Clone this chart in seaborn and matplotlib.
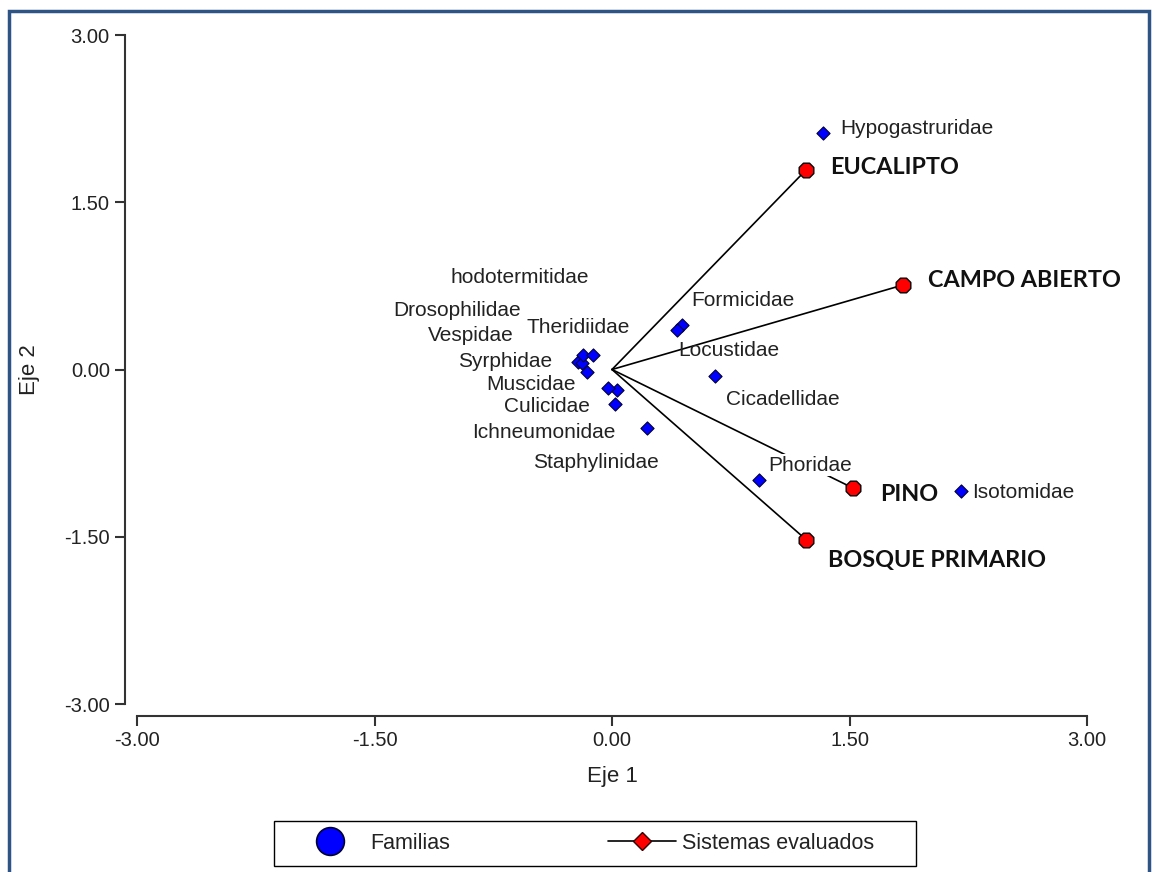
import numpy as np
import pandas as pd
import matplotlib
matplotlib.use('Agg')
import matplotlib.pyplot as plt
from matplotlib.lines import Line2D
from matplotlib.patches import Rectangle
import seaborn as sns

# %% data
familias = ['Hypogastruridae', 'Isotomidae', 'Phoridae', 'Cicadellidae', 'Formicidae',
            'Locustidae', 'Staphylinidae', 'Ichneumonidae', 'Culicidae', 'Muscidae',
            'Syrphidae', 'Vespidae', 'Drosophilidae', 'Theridiidae', 'hodotermitidae']
fam_eje1 = [1.333, 2.204, 0.928, 0.651, 0.442, 0.411, 0.221, 0.019, 0.032, -0.025,
            -0.215, -0.190, -0.183, -0.120, -0.158]
fam_eje2 = [2.120, -1.090, -0.991, -0.058, 0.399, 0.354, -0.525, -0.309, -0.184, -0.166,
            0.067, 0.058, 0.130, 0.130, -0.022]

sistemas = ['EUCALIPTO', 'CAMPO ABIERTO', 'PINO', 'BOSQUE PRIMARIO']
sis_eje1 = [1.225, 1.838, 1.522, 1.225]
sis_eje2 = [1.789, 0.758, -1.063, -1.525]

# label anchors (left edge, vertical centre) in data units
fam_lab_x = [1.44, 2.274, 0.985, 0.72, 0.499, 0.417, -0.499, -0.884, -0.682, -0.796,
             -0.973, -1.162, -1.383, -0.537, -1.017]
fam_lab_y = [2.157, -1.099, -0.857, -0.265, 0.623, 0.166, -0.83, -0.561, -0.336, -0.139,
             0.076, 0.309, 0.525, 0.381, 0.821]
sis_lab_x = [1.377, 1.996, 1.693, 1.364]
sis_lab_y = [1.816, 0.794, -1.117, -1.717]

ticks = [-3.0, -1.5, 0.0, 1.5, 3.0]

df_fam = pd.DataFrame({'Eje 1': fam_eje1, 'Eje 2': fam_eje2, 'Familia': familias})
df_sis = pd.DataFrame({'Eje 1': sis_eje1, 'Eje 2': sis_eje2, 'Sistema': sistemas})

# %% plot
sns.set_theme(style='white')
plt.rcParams['font.family'] = ['Liberation Sans', 'DejaVu Sans']
txt_col = '#222222'

fig = plt.figure(figsize=(11.58, 8.72), dpi=100)
ax = fig.add_axes([137 / 1158, 1 - 704 / 872, 950 / 1158, 669 / 872])

for x, y in zip(sis_eje1, sis_eje2):
    ax.plot([0, x], [0, y], color='black', lw=1.2, zorder=1)

sns.scatterplot(data=df_fam, x='Eje 1', y='Eje 2', marker='D', s=45, color='#0000ff',
                edgecolor='#000033', linewidth=0.8, ax=ax, zorder=3, legend=False)
sns.scatterplot(data=df_sis, x='Eje 1', y='Eje 2', marker='8', s=130, color='#ff0000',
                edgecolor='black', linewidth=1.0, ax=ax, zorder=4, legend=False)

for name, x, y in zip(familias, fam_lab_x, fam_lab_y):
    bbox = dict(facecolor='white', edgecolor='none', pad=1) if name == 'Phoridae' else None
    ax.text(x, y, name, ha='left', va='center', fontsize=15, color=txt_col, bbox=bbox, zorder=2)
for name, x, y in zip(sistemas, sis_lab_x, sis_lab_y):
    ax.text(x, y, name, ha='left', va='center', fontsize=16.8, fontweight='bold',
            family=['Lato', 'DejaVu Sans'], color='#111111', zorder=5)

ax.set_xlim(-3, 3)
ax.set_ylim(-3, 3)
ax.set_xticks(ticks)
ax.set_yticks(ticks)
ax.set_xticklabels([f'{t:.2f}' for t in ticks])
ax.set_yticklabels([f'{t:.2f}' for t in ticks])
ax.tick_params(axis='both', direction='out', length=7, width=1.5, color='#333333',
               labelsize=14.5, labelcolor=txt_col, pad=4, left=True, bottom=True)
for side in ['top', 'right']:
    ax.spines[side].set_visible(False)
for side in ['left', 'bottom']:
    ax.spines[side].set_position(('outward', 8.6))
    ax.spines[side].set_color('#333333')
    ax.spines[side].set_linewidth(1.5)

ax.set_xlabel('Eje 1', fontsize=16, color=txt_col)
ax.set_ylabel('Eje 2', fontsize=16, color=txt_col)
ax.xaxis.set_label_coords(0.5, -0.092)
ax.yaxis.set_label_coords(-0.102, 0.5)

# legend below the plot, boxed by hand
handles = [
    Line2D([], [], marker='o', linestyle='none', markersize=20, markerfacecolor='#0000ff',
           markeredgecolor='#000033', markeredgewidth=1.2),
    Line2D([], [], color='black', lw=1.2, marker='D', markersize=9,
           markerfacecolor='#ff0000', markeredgecolor='#330000'),
]
leg = fig.legend(handles, ['Familias', 'Sistemas evaluados'], ncol=2,
                 bbox_to_anchor=(296 / 1158, 1 - 843 / 872), loc='center left',
                 frameon=False, fontsize=15.5, handlelength=3.16, handletextpad=0.3,
                 columnspacing=7.3, borderpad=0, borderaxespad=0)
for t in leg.get_texts():
    t.set_color(txt_col)
fig.patches.append(Rectangle((274 / 1158, 1 - 866 / 872), 642 / 1158, 45 / 872,
                             transform=fig.transFigure, fill=False,
                             edgecolor='black', linewidth=1.0))

# frame around the figure
fig.patches.append(Rectangle((9 / 1158, -0.05), 1140 / 1158, 1.05 - 11 / 872,
                             transform=fig.transFigure, fill=False,
                             edgecolor='#2E5486', linewidth=2.5))

fig.savefig('out.png', dpi=100)
